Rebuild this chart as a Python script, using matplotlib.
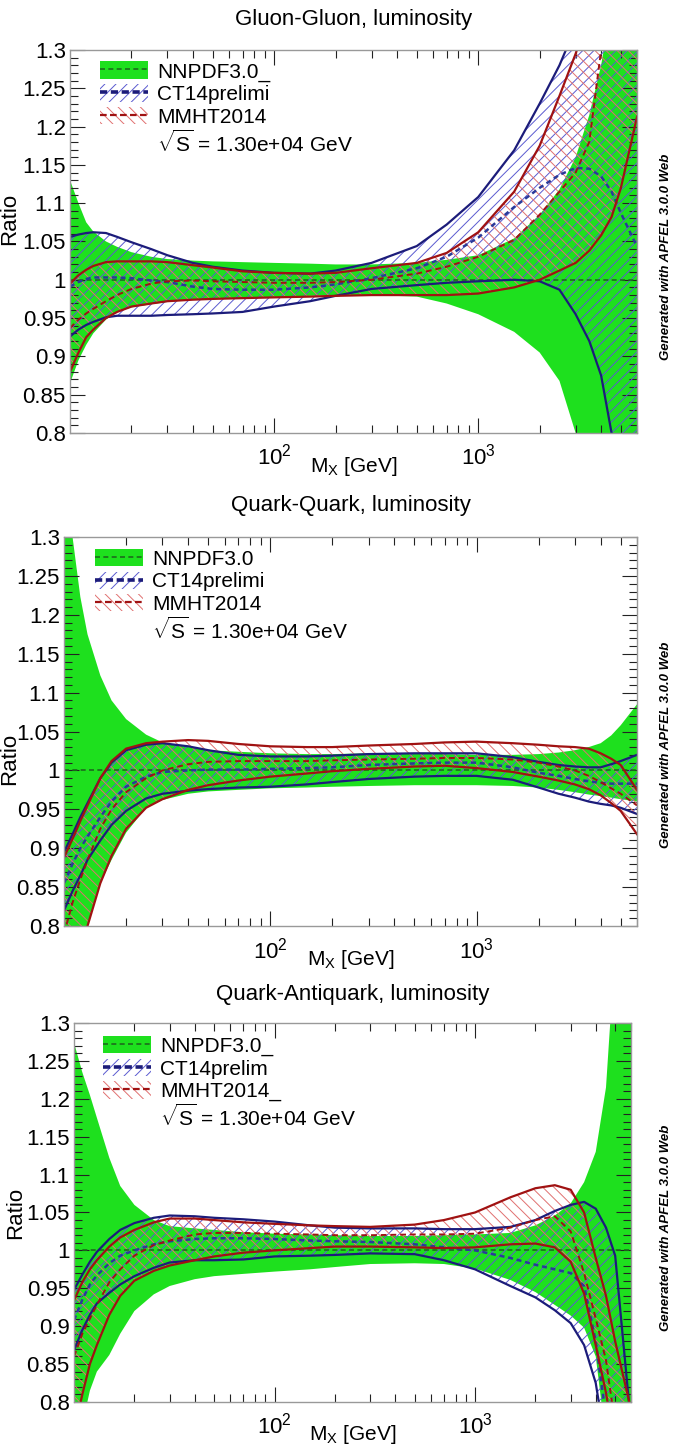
import matplotlib
matplotlib.use("Agg")
import matplotlib.pyplot as plt
from matplotlib.patches import Patch
from matplotlib.lines import Line2D
from matplotlib.legend_handler import HandlerTuple
from matplotlib.ticker import MultipleLocator, LogLocator, FuncFormatter, NullFormatter

# invariant mass grid (GeV)
mx = [10, 11, 12, 13, 15, 17, 20, 25, 30, 40, 50, 70, 100, 150, 200, 300,
      500, 700, 1000, 1500, 2000, 2500, 3000, 3500, 4000, 4500, 5000, 6000]

# ---- Gluon-Gluon ----
gg_nn_up = [1.13, 1.10, 1.075, 1.063, 1.05, 1.043, 1.036, 1.030, 1.027, 1.025,
            1.024, 1.023, 1.022, 1.021, 1.020, 1.020, 1.022, 1.026, 1.032, 1.054,
            1.085, 1.118, 1.160, 1.215, 1.280, 1.36, 1.42, 1.50]
gg_nn_lo = [0.865, 0.895, 0.915, 0.930, 0.948, 0.958, 0.964, 0.968, 0.971, 0.974,
            0.975, 0.976, 0.977, 0.979, 0.980, 0.980, 0.978, 0.969, 0.955, 0.932,
            0.905, 0.868, 0.80, 0.72, 0.64, 0.56, 0.50, 0.40]
gg_ct_up = [1.056, 1.059, 1.061, 1.062, 1.061, 1.056, 1.049, 1.040, 1.032, 1.022,
            1.017, 1.012, 1.009, 1.008, 1.012, 1.022, 1.044, 1.072, 1.108, 1.169,
            1.230, 1.280, 1.330, 1.40, 1.45, 1.50, 1.55, 1.60]
gg_ct_lo = [0.926, 0.935, 0.941, 0.945, 0.951, 0.953, 0.953, 0.953, 0.954, 0.955,
            0.956, 0.958, 0.965, 0.972, 0.979, 0.988, 0.993, 0.996, 0.998, 1.000,
            0.998, 0.987, 0.955, 0.920, 0.875, 0.80, 0.74, 0.65]
gg_ct_c = [0.991, 0.997, 1.001, 1.003, 1.003, 1.003, 1.002, 0.999, 0.997, 0.991,
           0.988, 0.987, 0.987, 0.990, 0.994, 1.002, 1.015, 1.030, 1.055, 1.095,
           1.120, 1.137, 1.146, 1.145, 1.135, 1.115, 1.087, 1.043]
gg_mm_up = [0.995, 1.006, 1.013, 1.018, 1.023, 1.024, 1.024, 1.024, 1.023, 1.019,
            1.016, 1.011, 1.009, 1.008, 1.009, 1.015, 1.022, 1.035, 1.062, 1.115,
            1.175, 1.240, 1.295, 1.35, 1.40, 1.45, 1.50, 1.55]
gg_mm_lo = [0.880, 0.905, 0.925, 0.935, 0.950, 0.958, 0.965, 0.969, 0.972, 0.974,
            0.975, 0.976, 0.977, 0.978, 0.979, 0.980, 0.980, 0.980, 0.982, 0.990,
            1.000, 1.012, 1.022, 1.038, 1.058, 1.082, 1.120, 1.213]
gg_mm_c = [0.937, 0.948, 0.956, 0.962, 0.972, 0.980, 0.988, 0.995, 0.998, 0.999,
           0.998, 0.997, 0.996, 0.996, 0.997, 1.000, 1.008, 1.017, 1.030, 1.052,
           1.085, 1.115, 1.140, 1.180, 1.30, 1.40, 1.50, 1.60]

# ---- Quark-Quark ----
qq_nn_up = [1.40, 1.30, 1.223, 1.175, 1.122, 1.090, 1.066, 1.046, 1.036, 1.030,
            1.026, 1.024, 1.022, 1.021, 1.021, 1.022, 1.022, 1.021, 1.020, 1.020,
            1.021, 1.023, 1.026, 1.030, 1.035, 1.045, 1.058, 1.085]
qq_nn_lo = [0.65, 0.72, 0.76, 0.80, 0.855, 0.885, 0.920, 0.952, 0.962, 0.970,
            0.973, 0.975, 0.977, 0.978, 0.979, 0.980, 0.981, 0.981, 0.981, 0.980,
            0.978, 0.975, 0.972, 0.969, 0.967, 0.965, 0.963, 0.960]
qq_ct_up = [0.895, 0.918, 0.940, 0.958, 0.990, 1.010, 1.026, 1.033, 1.035, 1.031,
            1.026, 1.020, 1.018, 1.018, 1.019, 1.021, 1.022, 1.022, 1.022, 1.017,
            1.011, 1.007, 1.005, 1.004, 1.004, 1.008, 1.012, 1.020]
qq_ct_lo = [0.820, 0.845, 0.865, 0.885, 0.910, 0.930, 0.948, 0.964, 0.970, 0.974,
            0.976, 0.978, 0.979, 0.982, 0.985, 0.989, 0.992, 0.993, 0.993, 0.988,
            0.978, 0.970, 0.965, 0.960, 0.957, 0.955, 0.952, 0.944]
qq_ct_c = [0.855, 0.880, 0.900, 0.915, 0.940, 0.960, 0.979, 0.992, 0.998, 1.000,
           1.001, 1.001, 1.002, 1.003, 1.004, 1.007, 1.009, 1.010, 1.010, 1.004,
           0.997, 0.993, 0.989, 0.986, 0.984, 0.983, 0.983, 0.983]
qq_mm_up = [0.888, 0.912, 0.935, 0.955, 0.990, 1.012, 1.028, 1.035, 1.037, 1.039,
            1.038, 1.034, 1.031, 1.030, 1.030, 1.032, 1.034, 1.036, 1.037, 1.035,
            1.033, 1.031, 1.030, 1.028, 1.022, 1.015, 1.007, 0.975]
qq_mm_lo = [0.64, 0.70, 0.75, 0.80, 0.855, 0.890, 0.925, 0.952, 0.963, 0.975,
            0.981, 0.987, 0.992, 0.996, 0.999, 1.002, 1.005, 1.006, 1.003, 0.998,
            0.992, 0.987, 0.982, 0.976, 0.968, 0.958, 0.948, 0.918]
qq_mm_c = [0.79, 0.83, 0.86, 0.885, 0.925, 0.950, 0.972, 0.990, 1.000, 1.008,
           1.011, 1.012, 1.012, 1.012, 1.013, 1.014, 1.015, 1.016, 1.016, 1.014,
           1.010, 1.005, 1.000, 0.993, 0.985, 0.977, 0.970, 0.955]

# ---- Quark-Antiquark ----
qa_nn_up = [1.274, 1.235, 1.205, 1.175, 1.122, 1.085, 1.060, 1.040, 1.032, 1.029,
            1.027, 1.024, 1.022, 1.021, 1.020, 1.019, 1.019, 1.020, 1.021, 1.023,
            1.033, 1.046, 1.062, 1.090, 1.130, 1.215, 1.40, 1.60]
qa_nn_lo = [0.70, 0.77, 0.815, 0.840, 0.862, 0.890, 0.920, 0.942, 0.953, 0.962,
            0.966, 0.969, 0.972, 0.975, 0.978, 0.982, 0.983, 0.982, 0.976, 0.961,
            0.945, 0.928, 0.914, 0.898, 0.860, 0.75, 0.70, 0.60]
qa_ct_up = [0.948, 0.968, 0.985, 0.998, 1.015, 1.027, 1.036, 1.043, 1.046, 1.045,
            1.043, 1.041, 1.038, 1.033, 1.030, 1.029, 1.029, 1.028, 1.028, 1.031,
            1.040, 1.052, 1.060, 1.064, 1.055, 1.030, 0.993, 0.77]
qa_ct_lo = [0.868, 0.895, 0.915, 0.930, 0.944, 0.955, 0.966, 0.977, 0.984, 0.987,
            0.987, 0.988, 0.992, 0.993, 0.994, 0.996, 0.995, 0.987, 0.975, 0.953,
            0.938, 0.921, 0.904, 0.875, 0.825, 0.74, 0.70, 0.60]
qa_ct_c = [0.908, 0.935, 0.955, 0.967, 0.983, 0.993, 1.000, 1.008, 1.012, 1.015,
           1.016, 1.016, 1.015, 1.013, 1.012, 1.011, 1.008, 1.004, 1.000, 0.990,
           0.981, 0.975, 0.970, 0.953, 0.880, 0.78, 0.70, 0.60]
qa_mm_up = [0.934, 0.958, 0.975, 0.987, 1.005, 1.017, 1.027, 1.037, 1.042, 1.042,
            1.040, 1.037, 1.035, 1.033, 1.032, 1.031, 1.034, 1.040, 1.050, 1.070,
            1.082, 1.086, 1.080, 1.050, 0.990, 0.940, 0.880, 0.79]
qa_mm_lo = [0.76, 0.81, 0.85, 0.875, 0.915, 0.940, 0.960, 0.973, 0.980, 0.987,
            0.992, 0.997, 1.000, 1.003, 1.005, 1.005, 1.004, 1.003, 1.004, 1.008,
            1.009, 1.004, 0.985, 0.943, 0.875, 0.812, 0.74, 0.60]
qa_mm_c = [0.86, 0.89, 0.91, 0.928, 0.958, 0.975, 0.993, 1.007, 1.013, 1.021,
           1.023, 1.023, 1.022, 1.021, 1.020, 1.020, 1.021, 1.021, 1.022, 1.030,
           1.040, 1.045, 1.025, 0.970, 0.910, 0.855, 0.77, 0.65]

titles = ["Gluon-Gluon, luminosity", "Quark-Quark, luminosity", "Quark-Antiquark, luminosity"]
legend_names = [["NNPDF3.0_", "CT14prelimi", "MMHT2014"],
                ["NNPDF3.0", "CT14prelimi", "MMHT2014"],
                ["NNPDF3.0_", "CT14prelim", "MMHT2014_"]]
sqrt_s_label = r"$\sqrt{\mathrm{S}}$ = 1.30e+04 GeV"

bands = [
    (gg_nn_up, gg_nn_lo, gg_ct_up, gg_ct_lo, gg_ct_c, gg_mm_up, gg_mm_lo, gg_mm_c),
    (qq_nn_up, qq_nn_lo, qq_ct_up, qq_ct_lo, qq_ct_c, qq_mm_up, qq_mm_lo, qq_mm_c),
    (qa_nn_up, qa_nn_lo, qa_ct_up, qa_ct_lo, qa_ct_c, qa_mm_up, qa_mm_lo, qa_mm_c),
]

# layout (figure fractions)
rects = [[0.1036, 0.7010, 0.8388, 0.2645],
         [0.0947, 0.3605, 0.8476, 0.2686],
         [0.1095, 0.0318, 0.8240, 0.2617]]
title_pads = [18, 19, 16.5]
ylabel_pos = [(-0.088, 0.56), (-0.077, 0.43), (-0.086, 0.50)]
legend_pos = [(0.053, 0.970), (0.054, 0.969), (0.052, 0.966)]
apfel_y = [257, 745, 1228]

green = "#1ee01e"
dkgreen = "#1d6b1d"
navy = "#1c1c7a"
blue_h = "#5a5ad0"
maroon = "#a01212"
red_h = "#e07070"

plt.rcParams["font.family"] = ["Liberation Sans", "DejaVu Sans"]
plt.rcParams["mathtext.fontset"] = "custom"
plt.rcParams["mathtext.rm"] = "Liberation Sans"
plt.rcParams["mathtext.it"] = "Liberation Sans:italic"
plt.rcParams["mathtext.bf"] = "Liberation Sans:bold"
plt.rcParams["hatch.linewidth"] = 0.7

fig = plt.figure(figsize=(6.76, 14.48), dpi=100)

for i in range(3):
    nn_up, nn_lo, ct_up, ct_lo, ct_c, mm_up, mm_lo, mm_c = bands[i]
    ax = fig.add_axes(rects[i])
    ax.set_xscale("log")

    # NNPDF band (solid green)
    ax.fill_between(mx, nn_lo, nn_up, facecolor=green, edgecolor="none", zorder=1)
    # CT14 band (hatched blue)
    ax.fill_between(mx, ct_lo, ct_up, facecolor="none", edgecolor=blue_h,
                    hatch="///", linewidth=0, zorder=2)
    # MMHT band (hatched red)
    ax.fill_between(mx, mm_lo, mm_up, facecolor="none", edgecolor=red_h,
                    hatch="\\\\\\", linewidth=0, zorder=3)

    ax.axhline(1.0, color=dkgreen, ls=(0, (3, 2)), lw=1.2, zorder=4)
    ax.plot(mx, ct_up, color=navy, lw=1.6, zorder=5)
    ax.plot(mx, ct_lo, color=navy, lw=1.6, zorder=5)
    ax.plot(mx, ct_c, color="#2a3a9a", ls=(0, (2, 1.5)), lw=1.8, zorder=5)
    ax.plot(mx, mm_up, color=maroon, lw=1.6, zorder=6)
    ax.plot(mx, mm_lo, color=maroon, lw=1.6, zorder=6)
    ax.plot(mx, mm_c, color=maroon, ls=(0, (3, 2)), lw=1.4, zorder=6)

    ax.set_xlim(10, 6000)
    ax.set_ylim(0.8, 1.3)

    # axes and ticks, ROOT-like
    ax.set_xticks([100, 1000])
    ax.set_xticklabels([r"$10^2$", r"$10^3$"])
    ax.xaxis.set_minor_locator(LogLocator(base=10, subs=range(2, 10)))
    ax.xaxis.set_minor_formatter(NullFormatter())
    ax.yaxis.set_major_locator(MultipleLocator(0.05))
    ax.yaxis.set_minor_locator(MultipleLocator(0.01))
    ax.yaxis.set_major_formatter(FuncFormatter(lambda v, p: "%g" % round(v, 2)))
    ax.tick_params(which="both", direction="in", top=True, right=True,
                   color="#222222", width=0.8, labelsize=16)
    ax.tick_params(which="major", length=11)
    ax.tick_params(which="minor", length=6)
    ax.tick_params(axis="x", which="major", pad=8)
    ax.tick_params(axis="y", which="major", pad=3)
    for sp in ax.spines.values():
        sp.set_color("#999999")
        sp.set_linewidth(1.0)
        sp.set_zorder(10)

    ax.set_title(titles[i], fontsize=16, pad=title_pads[i])
    ax.set_ylabel("Ratio", fontsize=16)
    ax.yaxis.set_label_coords(*ylabel_pos[i])
    ax.set_xlabel(r"M$_{\mathrm{X}}$ [GeV]", fontsize=15)
    ax.xaxis.set_label_coords(0.50, -0.087)
    ax.xaxis.label.set_va("center")

    # legend
    h_nn = (Patch(facecolor=green, edgecolor="none"),
            Line2D([], [], color=dkgreen, ls=(0, (3, 2)), lw=1.2))
    h_ct = (Patch(facecolor="none", edgecolor=blue_h, hatch="///", linewidth=0),
            Line2D([], [], color=navy, ls=(0, (2, 1)), lw=2.6))
    h_mm = (Patch(facecolor="none", edgecolor=red_h, hatch="\\\\\\", linewidth=0),
            Line2D([], [], color=maroon, ls=(0, (3, 1.5)), lw=1.6))
    h_s = Patch(facecolor="none", edgecolor="none")
    ax.legend([h_nn, h_ct, h_mm, h_s], legend_names[i] + [sqrt_s_label],
              handler_map={tuple: HandlerTuple(ndivide=1)},
              loc="upper left", bbox_to_anchor=legend_pos[i], frameon=False,
              fontsize=15, handlelength=2.3, handleheight=0.9,
              handletextpad=0.43, labelspacing=0.13, borderaxespad=0, borderpad=0)

    fig.text(666 / 676, 1 - apfel_y[i] / 1448, "Generated with APFEL 3.0.0 Web",
             rotation=90, ha="center", va="center", fontsize=9.5,
             fontweight="bold", style="italic")

fig.savefig("out.png", dpi=100)
